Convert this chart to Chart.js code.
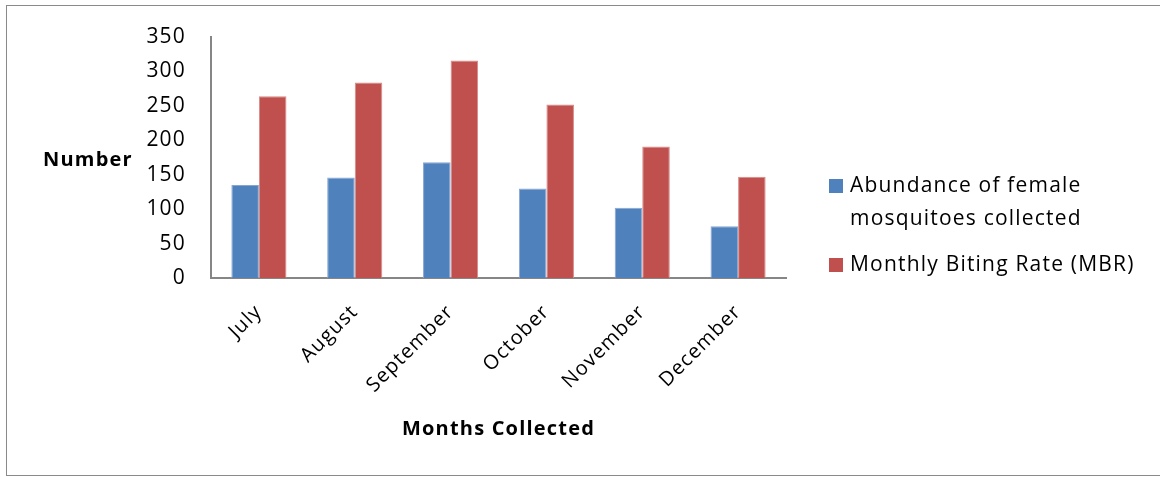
<!DOCTYPE html>
<html>
<head>
<meta charset="utf-8">
<script src="https://cdn.jsdelivr.net/npm/chart.js@4/dist/chart.umd.min.js"></script>
<style>
  html, body { margin: 0; padding: 0; background: #fff; }
  #wrap { position: relative; width: 1160px; height: 477px; overflow: hidden; }
  #frame { position: absolute; left: 6px; top: 5px; width: 1170px; height: 469px;
           border: 1px solid #8a8a8a; pointer-events: none; }
  canvas { position: absolute; left: 0; top: 0; }
</style>
</head>
<body>
<div id="wrap">
  <canvas id="c" width="1160" height="477"></canvas>
  <div id="frame"></div>
</div>
<script>
// Monthly mosquito collections, July to December
const months = ['July', 'August', 'September', 'October', 'November', 'December'];
const abundance = [135, 146, 168, 130, 102, 75];
const bitingRate = [264, 284, 316, 252, 191, 147];
const yTicks = [0, 50, 100, 150, 200, 250, 300, 350];
const seriesNames = [['Abundance of female', 'mosquitoes collected'], ['Monthly Biting Rate (MBR)']];

const FONT = '"Open Sans", sans-serif';
const SPACING = '1.2px';

// Slightly looser tracking for all canvas text (set before layout so measurements agree)
const tracking = {
  id: 'tracking',
  beforeUpdate(chart) { chart.ctx.letterSpacing = SPACING; },
  beforeDraw(chart) { chart.ctx.letterSpacing = SPACING; }
};

// Horizontal y-axis caption and a right-hand legend with wrapped entries
const sideText = {
  id: 'sideText',
  afterDraw(chart) {
    const ctx = chart.ctx;
    ctx.save();
    ctx.letterSpacing = SPACING;
    ctx.fillStyle = '#000';
    ctx.font = 'bold 20px ' + FONT;
    ctx.textAlign = 'left';
    ctx.textBaseline = 'middle';
    ctx.fillText('Number', 43, 160);

    ctx.font = '21px ' + FONT;
    const entries = [{ y: 186 }, { y: 265 }];
    chart.data.datasets.forEach((ds, i) => {
      const top = entries[i].y;
      ctx.fillStyle = ds.backgroundColor;
      ctx.fillRect(829, top - 7, 14, 14);
      ctx.fillStyle = '#000';
      seriesNames[i].forEach((line, k) => {
        ctx.fillText(line, 850, top + k * 33);
      });
    });
    ctx.restore();
  }
};

new Chart(document.getElementById('c'), {
  type: 'bar',
  data: {
    labels: months,
    datasets: [
      { label: seriesNames[0].join(' '), data: abundance, backgroundColor: '#4F81BD',
        borderColor: '#86A6D2', borderWidth: 1, borderSkipped: 'bottom' },
      { label: seriesNames[1].join(' '), data: bitingRate, backgroundColor: '#C0504D',
        borderColor: '#D58A88', borderWidth: 1, borderSkipped: 'bottom' }
    ]
  },
  options: {
    responsive: false,
    animation: false,
    devicePixelRatio: 1,
    layout: { padding: { left: 0, right: 374, top: 37, bottom: 36 } },
    datasets: { bar: { categoryPercentage: 0.575, barPercentage: 1.0 } },
    plugins: { legend: { display: false }, tooltip: { enabled: false } },
    scales: {
      x: {
        grid: { display: false },
        border: { display: true, color: '#868686', width: 2 },
        ticks: {
          color: '#000', font: { family: FONT, size: 20 },
          minRotation: 45, maxRotation: 45, padding: 14
        },
        title: {
          display: true, text: 'Months Collected', color: '#000',
          font: { family: FONT, size: 20, weight: 'bold' }, padding: { top: 0, bottom: 0 }
        },
        afterFit(scale) { scale.height = 163; }
      },
      y: {
        min: 0, max: 350,
        grid: { display: false },
        border: { display: true, color: '#868686', width: 2 },
        ticks: {
          color: '#000', font: { family: FONT, size: 21 }, padding: 17,
          stepSize: 50
        },
        afterBuildTicks(scale) { scale.ticks = yTicks.map(v => ({ value: v })); },
        afterFit(scale) { scale.width = 211; }
      }
    }
  },
  plugins: [tracking, sideText]
});
</script>
</body>
</html>
